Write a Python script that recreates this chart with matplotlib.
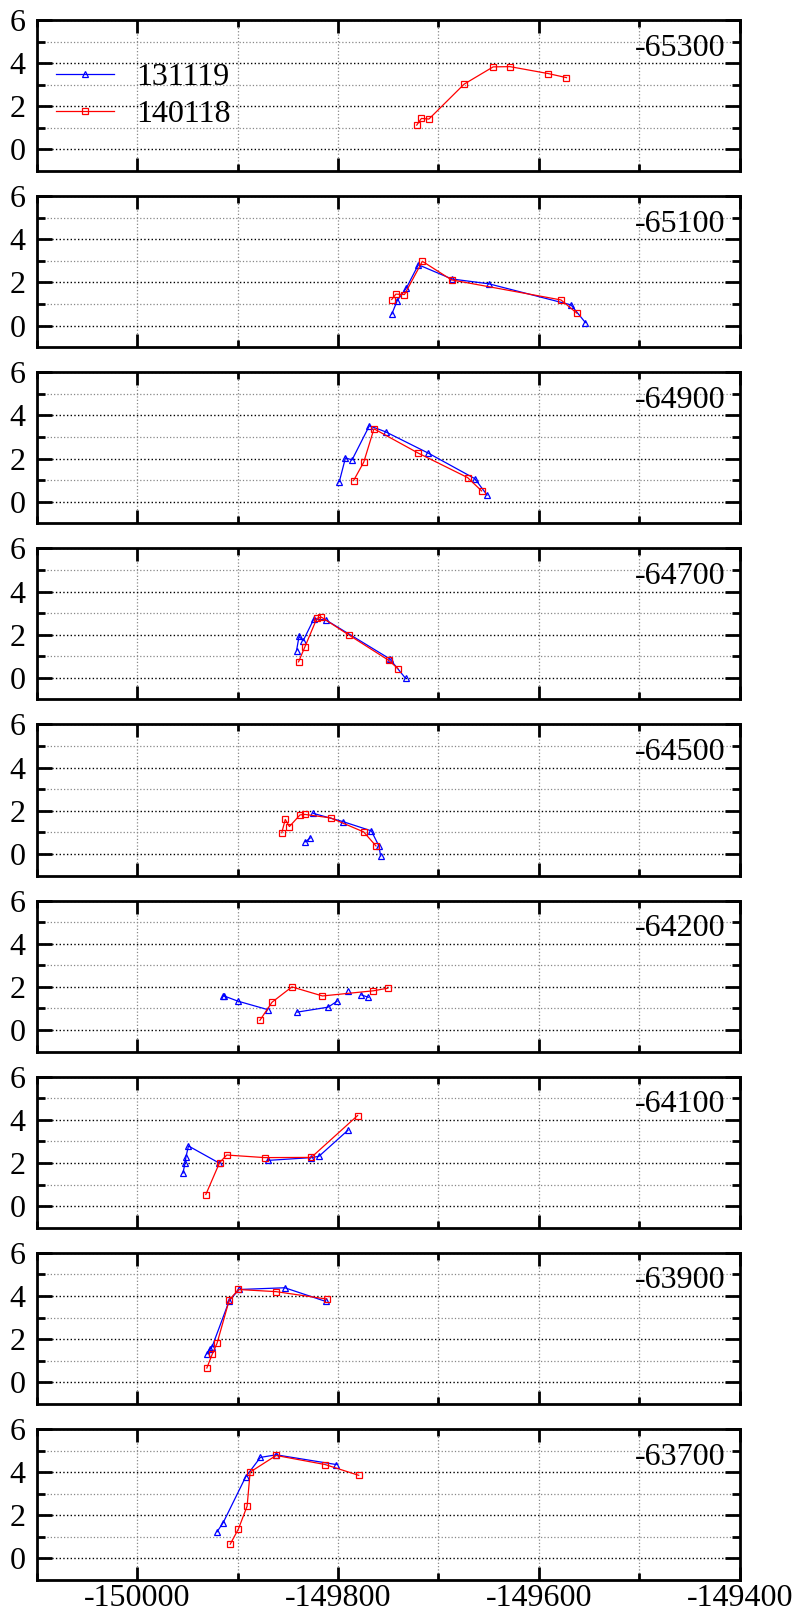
import numpy as np
import matplotlib.pyplot as plt
from matplotlib.ticker import MultipleLocator, FixedLocator

nan = np.nan

# panel labels, top to bottom
panels = ["-65300", "-65100", "-64900", "-64700", "-64500", "-64200", "-64100", "-63900", "-63700"]

# series 131119 (blue), nan = gap in the line
blue_x = [
    [],
    [-149746.5, -149741, -149732, -149720, -149686.6, -149650, -149568, -149553.7],
    [-149798.7, -149792.6, -149786, -149768.8, -149752.6, -149710, -149663.8, -149651.6],
    [-149841.3, -149838.8, -149834.7, -149824, -149812, -149748.5, -149732.8],
    [-149832.7, -149827.6, nan, -149824.6, -149795.2, -149766.8, -149759.2, -149757.6],
    [-149914.9, -149913.4, -149899.7, -149870.2, nan, -149840.8, -149809.9, -149800.8, nan,
     -149789.6, nan, -149776.9, -149769.8],
    [-149954.4, -149952.4, -149951.4, -149948.9, -149918.4, nan, -149870.2, -149826.6, -149819, -149790.1],
    [-149930.6, -149927.6, -149925.5, -149908.3, -149898.6, -149853, -149812.4],
    [-149920.5, -149914.4, -149892, -149877.3, -149861.6, -149801.8],
]
blue_y = [
    [],
    [0.53, 1.16, 1.74, 2.82, 2.16, 1.94, 0.96, 0.14],
    [0.93, 2.03, 1.94, 3.52, 3.24, 2.25, 1.07, 0.31],
    [1.26, 1.92, 1.72, 2.73, 2.68, 0.88, -0.02],
    [0.56, 0.74, nan, 1.88, 1.50, 1.07, 0.36, -0.09],
    [1.57, 1.58, 1.34, 0.95, nan, 0.83, 1.06, 1.34, nan, 1.82, nan, 1.63, 1.52],
    [1.53, 1.98, 2.28, 2.79, 2.0, nan, 2.12, 2.25, 2.31, 3.52],
    [1.31, 1.56, 1.63, 3.78, 4.30, 4.38, 3.75],
    [1.23, 1.65, 3.77, 4.68, 4.80, 4.35],
]

# series 140118 (red)
red_x = [
    [-149721.6, -149717, -149709.5, -149674.4, -149645.5, -149628.8, -149590.8, -149572.5],
    [-149746.5, -149742.4, -149733.8, -149716, -149687, -149578, -149562],
    [-149784.5, -149774.4, -149764.2, -149720, -149671, -149657],
    [-149839.3, -149833.2, -149821, -149816.5, -149789, -149749.5, -149740.4],
    [-149856, -149852.5, -149848.4, -149837.8, -149832.7, -149807.3, -149774.4, -149762.2],
    [-149877.8, -149865.7, -149845.9, -149815.5, -149764.7, -149750.5],
    [-149931.6, -149917.9, -149910.8, -149872.8, -149826.6, -149780.5],
    [-149930.6, -149925, -149920.5, -149908.3, -149899.1, -149861.6, -149811.4],
    [-149907.3, -149899.1, -149890.5, -149887.5, -149861.6, -149812.9, -149779.4],
]
red_y = [
    [1.13, 1.44, 1.41, 3.03, 3.83, 3.84, 3.52, 3.33],
    [1.21, 1.46, 1.44, 2.98, 2.12, 1.19, 0.57],
    [0.98, 1.83, 3.38, 2.25, 1.12, 0.50],
    [0.74, 1.41, 2.76, 2.81, 1.98, 0.81, 0.43],
    [0.98, 1.60, 1.27, 1.81, 1.83, 1.67, 1.02, 0.37],
    [0.45, 1.29, 2.0, 1.58, 1.82, 1.94],
    [0.54, 2.02, 2.37, 2.25, 2.26, 4.20],
    [0.66, 1.33, 1.80, 3.81, 4.30, 4.20, 3.86],
    [0.66, 1.37, 2.42, 4.0, 4.77, 4.35, 3.85],
]

plt.rcParams['font.family'] = ['Liberation Serif', 'DejaVu Serif']
plt.rcParams['font.size'] = 23

fig, axes = plt.subplots(9, 1, figsize=(7.98, 16.16), dpi=100, sharex=True)
fig.subplots_adjust(left=0.046, right=0.927, top=0.9876, bottom=0.0223, hspace=0.166)

for i, ax in enumerate(axes):
    ax.plot(blue_x[i], blue_y[i], color='blue', lw=0.9, marker='^', ms=4.5,
            mfc='none', mec='blue', mew=0.9, label='131119')
    ax.plot(red_x[i], red_y[i], color='red', lw=0.9, marker='s', ms=4.2,
            mfc='none', mec='red', mew=0.9, label='140118')

    ax.set_xlim(-150100, -149400)
    ax.set_ylim(-1, 6)
    ax.xaxis.set_major_locator(MultipleLocator(200))
    ax.xaxis.set_minor_locator(MultipleLocator(100))
    ax.xaxis.set_major_formatter(lambda v, p: '%d' % v)
    ax.yaxis.set_major_locator(FixedLocator([0, 2, 4, 6]))
    ax.yaxis.set_minor_locator(FixedLocator([1, 3, 5]))

    ax.grid(True, axis='x', which='both', ls=':', color='#888888', lw=0.9)
    ax.grid(True, axis='y', which='major', ls=':', color='black', lw=1.0)
    ax.grid(True, axis='y', which='minor', ls=':', color='#888888', lw=0.9)

    ax.tick_params(axis='x', which='major', direction='in', top=True, bottom=True,
                   length=9.5, width=2, pad=3)
    ax.tick_params(axis='x', which='minor', direction='in', top=True, bottom=True,
                   length=5, width=2)
    ax.tick_params(axis='y', which='major', direction='in', left=True, right=True,
                   length=10.5, width=2, pad=8)
    ax.tick_params(axis='y', which='minor', direction='in', left=True, right=True,
                   length=5.5, width=2)
    for s in ax.spines.values():
        s.set_linewidth(2)

    ax.text(0.980, 4.35, panels[i], transform=ax.get_yaxis_transform(),
            ha='right', va='baseline')

axes[0].legend(loc='upper left', bbox_to_anchor=(0.028, 0.72), frameon=False,
               handlelength=1.8, handletextpad=0.7, labelspacing=0.25,
               borderaxespad=0, borderpad=0)

fig.savefig('out.png', dpi=100)
